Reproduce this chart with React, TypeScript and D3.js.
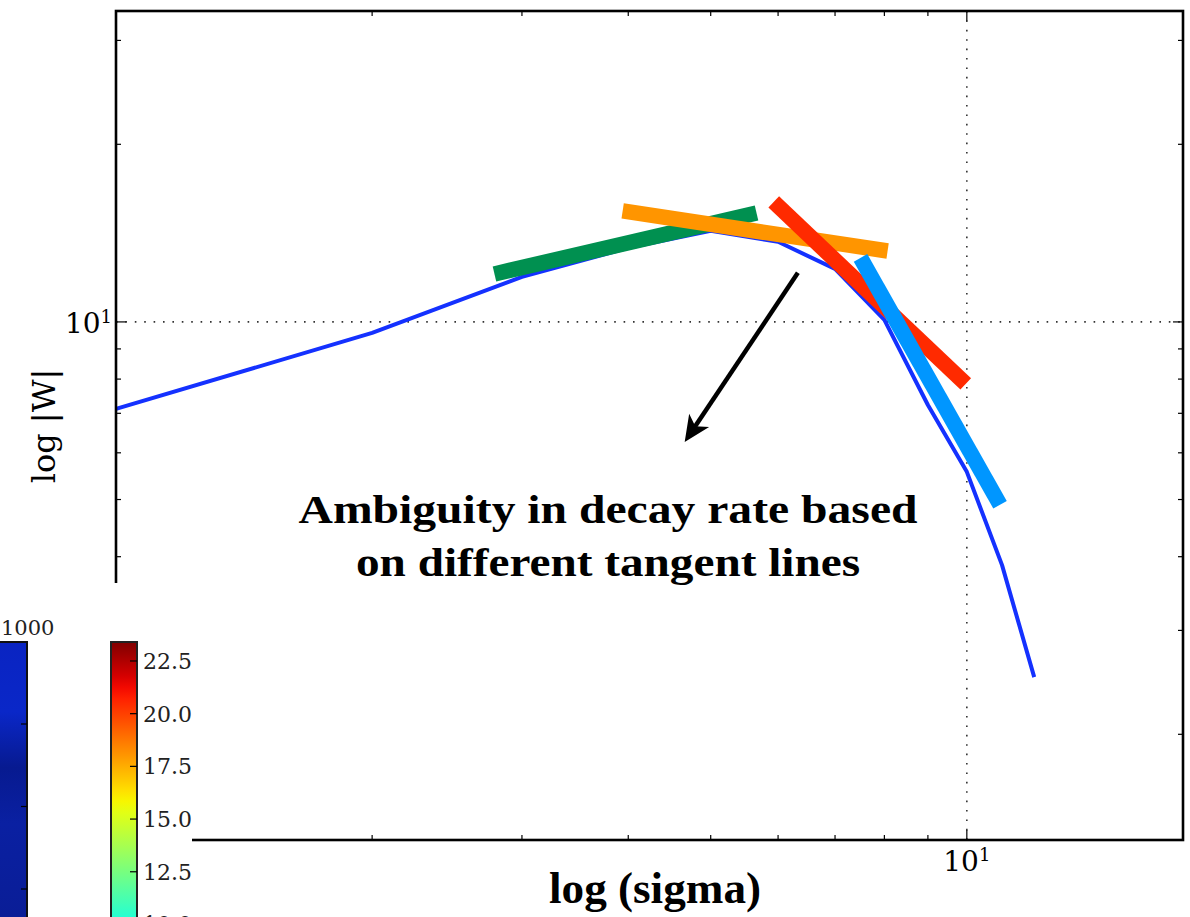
import React from "react";
import * as d3 from "d3";

// |W| against sigma, sampled at integer sigma
const sigma = [1, 2, 3, 4, 5, 6, 7, 8, 9, 10, 11, 12];
const wAbs = [7.12, 9.58, 11.92, 13.35, 14.27, 13.67, 12.3, 10.08, 7.23, 5.57, 3.87, 2.5];

// Tangent segments laid over the curve (start / end in data units)
const tangentSigmaStart = [2.785, 3.94, 5.93, 7.5];
const tangentWStart = [12.06, 15.42, 15.97, 12.84];
const tangentSigmaEnd = [5.66, 8.07, 9.97, 10.94];
const tangentWEnd = [15.3, 13.19, 7.85, 4.9];

// Annotation arrow (tail -> tip) in data units
const arrowSigma = [6.33, 4.66];
const arrowW = [12.11, 6.26];

// Axis tick values
const xTicks = [2, 3, 4, 5, 6, 7, 8, 9, 10];
const yTicks = [2, 3, 4, 5, 6, 7, 8, 9, 10, 20, 30];

// Colour bar (jet) values
const cbTicks = [22.5, 20.0, 17.5, 15.0, 12.5, 10.0];
const cbMin = 1.8;
const cbMax = 23.4;
const cbBlueTicks = [0, 1, 2];

const W = 1190;
const H = 917;
const plot = { left: 116, right: 1183, top: 11, bottom: 840 };

const tangentColors = ["#009050", "#ff9500", "#ff2a00", "#0096ff"];

// matplotlib-style jet colormap
const jetSeg = {
  r: [[0, 0], [0.35, 0], [0.66, 1], [0.89, 1], [1, 0.5]],
  g: [[0, 0], [0.125, 0], [0.375, 1], [0.64, 1], [0.91, 0], [1, 0]],
  b: [[0, 0.5], [0.11, 1], [0.34, 1], [0.65, 0], [1, 0]],
};
function seg(pts: number[][], t: number) {
  for (let i = 1; i < pts.length; i++) {
    if (t <= pts[i][0]) {
      const [t0, v0] = pts[i - 1];
      const [t1, v1] = pts[i];
      return v0 + ((t - t0) / (t1 - t0)) * (v1 - v0);
    }
  }
  return pts[pts.length - 1][1];
}
function jet(t: number) {
  const c = Math.max(0, Math.min(1, t));
  return d3.rgb(seg(jetSeg.r, c) * 255, seg(jetSeg.g, c) * 255, seg(jetSeg.b, c) * 255).formatHex();
}

export default function App() {
  const x = d3.scaleLog().domain([1, 17.95]).range([plot.left, plot.right]);
  const y = d3.scaleLog().domain([1.324, 33.65]).range([plot.bottom, plot.top]);

  const line = d3
    .line<number>()
    .x((_, i) => x(sigma[i]))
    .y((d) => y(d));

  // colour bar 2 vertical scale: 2.5 units per 52.7 px, top at y = 642
  const cbTop = 642;
  const pxPerUnit = 52.7 / 2.5;
  const cbY = d3
    .scaleLinear()
    .domain([cbMin, cbMax])
    .range([cbTop + (cbMax - cbMin) * pxPerUnit, cbTop]);
  const cbColor = d3.scaleSequential((t: number) => jet(t)).domain([cbMin, cbMax]);
  // stops ordered from the top of the bar (vmax) downward
  const stops = d3.range(0, 41).map((i) => {
    const v = cbMax - ((cbMax - cbMin) * i) / 40;
    return { offset: i / 40, color: cbColor(v) };
  });
  const cbBottom = cbY(cbMin);

  // arrow geometry
  const ax0 = x(arrowSigma[0]);
  const ay0 = y(arrowW[0]);
  const ax1 = x(arrowSigma[1]);
  const ay1 = y(arrowW[1]);
  const len = Math.hypot(ax1 - ax0, ay1 - ay0);
  const ux = (ax1 - ax0) / len;
  const uy = (ay1 - ay0) / len;
  const nx = -uy;
  const ny = ux;
  const hl = 26;
  const hw = 12;
  const notch = 7;
  const headPts = [
    [ax1, ay1],
    [ax1 - ux * hl + nx * hw, ay1 - uy * hl + ny * hw],
    [ax1 - ux * (hl - notch), ay1 - uy * (hl - notch)],
    [ax1 - ux * hl - nx * hw, ay1 - uy * hl - ny * hw],
  ];
  const shaftEnd = [ax1 - ux * (hl - notch - 1), ay1 - uy * (hl - notch - 1)];

  const tickLen = (v: number) => (v === 10 ? 10 : 5);
  const serif = "'DejaVu Serif', serif";
  const boldSerif = "'Liberation Serif', 'Times New Roman', serif";

  return (
    <svg
      width={W}
      height={H}
      style={{ position: "absolute", left: 0, top: 0, background: "#fff" }}
    >
      <rect x={0} y={0} width={W} height={H} fill="#fff" />

      {/* grid at the decade */}
      <line
        x1={x(10)}
        x2={x(10)}
        y1={plot.top}
        y2={plot.bottom}
        stroke="#333"
        strokeWidth={1.6}
        strokeDasharray="1.6,7.8"
      />
      <line
        x1={plot.left}
        x2={plot.right}
        y1={y(10)}
        y2={y(10)}
        stroke="#333"
        strokeWidth={1.6}
        strokeDasharray="1.6,7.8"
      />

      {/* curve */}
      <path d={line(wAbs) || ""} fill="none" stroke="#1431ff" strokeWidth={4} strokeLinejoin="round" />

      {/* tangents */}
      {tangentSigmaStart.map((s0, i) => (
        <line
          key={i}
          x1={x(s0)}
          y1={y(tangentWStart[i])}
          x2={x(tangentSigmaEnd[i])}
          y2={y(tangentWEnd[i])}
          stroke={tangentColors[i]}
          strokeWidth={15.5}
          strokeLinecap="butt"
        />
      ))}

      {/* arrow */}
      <line x1={ax0} y1={ay0} x2={shaftEnd[0]} y2={shaftEnd[1]} stroke="#000" strokeWidth={4.5} />
      <polygon points={headPts.map((p) => p.join(",")).join(" ")} fill="#000" />

      {/* annotation */}
      <g fontFamily={boldSerif} fontWeight="bold" fontSize={40} fill="#000" textAnchor="middle">
        <text x={608} y={523} textLength={619} lengthAdjust="spacingAndGlyphs">
          Ambiguity in decay rate based
        </text>
        <text x={608} y={576} textLength={504} lengthAdjust="spacingAndGlyphs">
          on different tangent lines
        </text>
      </g>

      {/* ticks */}
      {xTicks.map((v) => (
        <g key={"xt" + v}>
          <line x1={x(v)} x2={x(v)} y1={plot.bottom} y2={plot.bottom - tickLen(v)} stroke="#000" strokeWidth={1.2} />
          <line x1={x(v)} x2={x(v)} y1={plot.top} y2={plot.top + tickLen(v)} stroke="#000" strokeWidth={1.2} />
        </g>
      ))}
      {yTicks.map((v) => (
        <g key={"yt" + v}>
          <line x1={plot.left} x2={plot.left + tickLen(v)} y1={y(v)} y2={y(v)} stroke="#000" strokeWidth={1.2} />
          <line x1={plot.right} x2={plot.right - tickLen(v)} y1={y(v)} y2={y(v)} stroke="#000" strokeWidth={1.2} />
        </g>
      ))}

      {/* frame */}
      <rect
        x={plot.left}
        y={plot.top}
        width={plot.right - plot.left}
        height={plot.bottom - plot.top}
        fill="none"
        stroke="#000"
        strokeWidth={2.6}
      />

      {/* tick labels */}
      <text x={plot.left - 4} y={y(10) + 11} fontFamily={serif} fontSize={28} fill="#000" textAnchor="end">
        10<tspan fontSize={18} dy={-10}>1</tspan>
      </text>
      <text x={x(10)} y={plot.bottom + 31} fontFamily={serif} fontSize={28} fill="#000" textAnchor="middle">
        10<tspan fontSize={18} dy={-10}>1</tspan>
      </text>

      {/* axis labels */}
      <text
        transform={`translate(55,426) rotate(-90)`}
        fontFamily={serif}
        fontSize={32}
        fill="#000"
        textAnchor="middle"
      >
        log |W|
      </text>
      <text
        x={655}
        y={903}
        fontFamily={boldSerif}
        fontWeight="bold"
        fontSize={44}
        fill="#000"
        textAnchor="middle"
        textLength={212}
        lengthAdjust="spacingAndGlyphs"
      >
        log (sigma)
      </text>

      {/* panel holding the colour bars */}
      <rect x={0} y={583} width={192} height={H - 583} fill="#fff" />

      <defs>
        <linearGradient id="cbBlue" x1="0" y1="0" x2="0" y2="1">
          <stop offset="0%" stopColor="#0a24c2" />
          <stop offset="25%" stopColor="#0a27c8" />
          <stop offset="45%" stopColor="#071a90" />
          <stop offset="65%" stopColor="#0a20a2" />
          <stop offset="100%" stopColor="#0a1d96" />
        </linearGradient>
        <linearGradient id="cbJet" x1="0" y1="0" x2="0" y2="1">
          {stops.map((s, i) => (
            <stop key={i} offset={`${(s.offset * 100).toFixed(2)}%`} stopColor={s.color} />
          ))}
        </linearGradient>
      </defs>

      {/* colour bar 1 */}
      <rect x={-2} y={642} width={29} height={H - 642 + 4} fill="url(#cbBlue)" stroke="#111" strokeWidth={2} />
      {cbBlueTicks.map((i) => (
        <line key={"cb1" + i} x1={27} x2={21} y1={724 + i * 82.5} y2={724 + i * 82.5} stroke="#000" strokeWidth={1.2} />
      ))}
      <text x={1} y={635} fontFamily={serif} fontSize={21} fill="#222">
        1000
      </text>

      {/* colour bar 2 (jet) */}
      <g>
        <rect
          x={111}
          y={cbTop}
          width={26}
          height={cbBottom - cbTop}
          fill="url(#cbJet)"
          stroke="#222"
          strokeWidth={2}
        />
        {cbTicks.map((v) => (
          <g key={"cb2" + v}>
            <line x1={137} x2={130} y1={cbY(v)} y2={cbY(v)} stroke="#000" strokeWidth={1.2} />
            <text x={143} y={cbY(v) + 8} fontFamily={serif} fontSize={22} fill="#222">
              {v.toFixed(1)}
            </text>
          </g>
        ))}
      </g>
    </svg>
  );
}
